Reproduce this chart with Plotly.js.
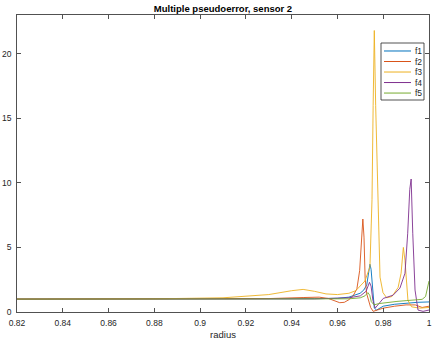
<!DOCTYPE html>
<html>
<head>
<meta charset="utf-8">
<script src="https://cdn.plot.ly/plotly-3.0.1.min.js"></script>
<style>
  html, body { margin: 0; padding: 0; background: #fff; }
  #graph { width: 436px; height: 343px; }
</style>
</head>
<body>
<div id="graph"></div>
<script>
// series names and colours (MATLAB default order)
const seriesNames = ['f1', 'f2', 'f3', 'f4', 'f5'];
const seriesColors = ['#0072BD', '#D95319', '#EDB120', '#7E2F8E', '#77AC30'];

// values: radius -> pseudoerror
const rF1 = [0.82, 0.88, 0.92, 0.95, 0.96, 0.965, 0.9699, 0.9715, 0.9728, 0.9736, 0.9742, 0.9747, 0.9752, 0.9757, 0.9761, 0.9771, 0.978, 0.98, 0.985, 0.99, 0.995, 1.0];
const vF1 = [1.0, 1.0, 1.01, 1.03, 1.06, 1.15, 1.45, 1.7, 2.1, 2.9, 3.7, 3.3, 2.2, 0.9, 0.3, 0.15, 0.25, 0.45, 0.6, 0.7, 0.75, 0.78];

const rF2 = [0.82, 0.9, 0.93, 0.945, 0.952, 0.956, 0.959, 0.961, 0.963, 0.965, 0.967, 0.9685, 0.9697, 0.9704, 0.9711, 0.9716, 0.9721, 0.9728, 0.9735, 0.9745, 0.9756, 0.977, 0.98, 0.985, 0.99, 0.994, 0.997, 1.0];
const vF2 = [1.0, 1.0, 1.04, 1.12, 1.15, 1.05, 0.85, 0.72, 0.75, 0.95, 1.3, 1.8, 3.2, 5.5, 7.2, 5.8, 2.6, 1.4, 0.9, 0.35, 0.05, 0.12, 0.3, 0.45, 0.55, 0.55, 0.35, 0.45];

const rF3 = [0.82, 0.88, 0.91, 0.93, 0.94, 0.945, 0.95, 0.955, 0.96, 0.965, 0.968, 0.972, 0.9742, 0.9751, 0.9756, 0.9761, 0.9767, 0.9776, 0.9786, 0.9799, 0.9815, 0.9838, 0.9865, 0.9878, 0.9888, 0.9895, 0.9908, 0.9924, 0.996, 1.0];
const vF3 = [1.0, 1.02, 1.1, 1.35, 1.65, 1.75, 1.6, 1.4, 1.35, 1.45, 1.65, 2.4, 3.5, 8.7, 16, 21.8, 16, 8.7, 2.7, 1.5, 1.1, 1.2, 1.9, 3.0, 5.0, 4.0, 0.9, 0.4, 0.3, 0.35];

const rF4 = [0.82, 0.9, 0.95, 0.965, 0.97, 0.9725, 0.974, 0.9747, 0.9755, 0.9765, 0.978, 0.98, 0.9843, 0.9873, 0.9895, 0.9907, 0.9916, 0.9922, 0.9929, 0.9939, 0.9952, 0.9974, 1.0];
const vF4 = [1.0, 1.0, 1.02, 1.1, 1.25, 1.6, 2.3, 2.0, 0.9, 0.3, 0.6, 1.05, 1.3, 1.85, 3.0, 6.1, 9.5, 10.3, 6.1, 1.7, 0.15, 0.05, 0.15];

const rF5 = [0.82, 0.9, 0.95, 0.965, 0.97, 0.972, 0.9733, 0.9741, 0.9748, 0.976, 0.978, 0.982, 0.986, 0.99, 0.994, 0.997, 0.9985, 0.9993, 1.0];
const vF5 = [1.0, 1.0, 1.0, 1.02, 1.1, 1.25, 1.5, 1.3, 0.8, 0.55, 0.65, 0.75, 0.82, 0.88, 0.92, 0.98, 1.2, 1.8, 2.4];

// tick labels
const xTickVals = [0.82, 0.84, 0.86, 0.88, 0.9, 0.92, 0.94, 0.96, 0.98, 1];
const xTickText = ['0.82', '0.84', '0.86', '0.88', '0.9', '0.92', '0.94', '0.96', '0.98', '1'];
const yTickVals = [0, 5, 10, 15, 20];

const radii = [rF1, rF2, rF3, rF4, rF5];
const values = [vF1, vF2, vF3, vF4, vF5];

const axisColor = '#262626';
const fontFam = '"Liberation Sans", Arial, Helvetica, sans-serif';

const traces = seriesNames.map((name, i) => ({
    x: radii[i],
    y: values[i],
    name: name,
    type: 'scatter',
    mode: 'lines',
    line: { color: seriesColors[i], width: 0.9 },
    showlegend: false
}));

// hand-made legend box (MATLAB style, tight rows)
const legX0 = 0.8835, legX1 = 0.9879, legTop = 0.9057, legBottom = 0.7138;
const lineX0 = 0.8908, lineX1 = 0.9563, textX = 0.961;
const rowTop = 0.8788, rowStep = 0.0354;

const shapes = [{
    type: 'rect', xref: 'paper', yref: 'paper',
    x0: legX0, x1: legX1, y0: legBottom, y1: legTop,
    line: { color: axisColor, width: 0.8 }, fillcolor: '#ffffff'
}];
const annotations = [];
seriesNames.forEach((name, i) => {
    const yy = rowTop - i * rowStep;
    shapes.push({
        type: 'line', xref: 'paper', yref: 'paper',
        x0: lineX0, x1: lineX1, y0: yy, y1: yy,
        line: { color: seriesColors[i], width: 1 }
    });
    annotations.push({
        xref: 'paper', yref: 'paper', x: textX, y: yy,
        xanchor: 'left', yanchor: 'middle', showarrow: false,
        text: name, font: { family: fontFam, size: 8.5, color: axisColor }
    });
});

const layout = {
    width: 436,
    height: 343,
    margin: { l: 17, r: 7, t: 15, b: 31 },
    paper_bgcolor: '#ffffff',
    plot_bgcolor: '#ffffff',
    font: { family: fontFam, size: 8.5, color: axisColor },
    title: {
        text: '<b>Multiple pseudoerror, sensor 2</b>',
        font: { family: fontFam, size: 9.5, color: '#000000' },
        x: 0.5, xref: 'paper', xanchor: 'center',
        y: 0.985, yref: 'container', yanchor: 'top'
    },
    xaxis: {
        range: [0.82, 1],
        tickvals: xTickVals,
        ticktext: xTickText,
        ticks: 'inside', ticklen: 4, tickcolor: axisColor, tickwidth: 0.8,
        ticklabelstandoff: 3,
        showline: true, linecolor: axisColor, linewidth: 0.8, mirror: 'ticks',
        showgrid: false, zeroline: false,
        title: { text: 'radius', font: { size: 9.5, color: axisColor }, standoff: 4 }
    },
    yaxis: {
        range: [0, 23],
        tickvals: yTickVals,
        ticks: 'inside', ticklen: 4, tickcolor: axisColor, tickwidth: 0.8,
        ticklabelstandoff: 3,
        showline: true, linecolor: axisColor, linewidth: 0.8, mirror: 'ticks',
        showgrid: false, zeroline: false
    },
    shapes: shapes,
    annotations: annotations,
    showlegend: false
};

Plotly.newPlot('graph', traces, layout, { displayModeBar: false, staticPlot: true });
</script>
</body>
</html>
